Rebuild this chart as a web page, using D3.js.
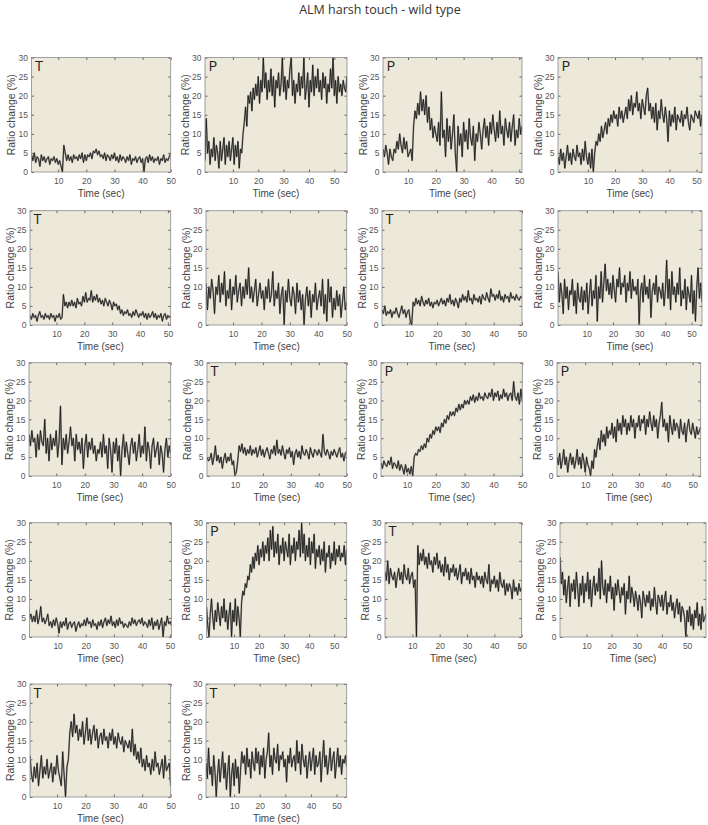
<!DOCTYPE html>
<html><head><meta charset="utf-8">
<script src="https://cdn.jsdelivr.net/npm/d3@7"></script>
<style>body{margin:0;background:#fff}</style>
</head><body><svg id="c" width="708" height="825"></svg>
<script>
const titleText = "ALM harsh touch - wild type";
const xLabel = "Time (sec)", yLabel = "Ratio change (%)";
const xTicks = [10,20,30,40,50];
const yTicks = [0,5,10,15,20,25,30];
const panelLetters = ["T","P","P","P","T","","T","","","T","P","P","","P","T","","T","T"];
const xMin = [0.5,-1,1,-1, 0.5,0.5,0.5,-1, 0.5,0,1,-0.5, 0,-1,0,-0.5, 0.5,-1];
const xMax = [50,55,51,52, 51,50,50,54, 50,50,50,53, 50.5,55,50,57.5, 50,54];
const tStart = [0.5,-1,1,-1, 0.5,0.5,0.5,-1, 0.5,0,1,-0.5, 0,-1,0,-0.5, 0.5,-1];
const tStep = 0.5;

const s1 = [4.5,3,5,2.5,4,3.5,1.5,4.5,3,4, 2.5,3.5,4,2,3.5,3,4,2.5,3.5,2, 3,1.5,0,7,5,3,4.5,3,4,2.5, 4.5,3.5,4,3,4.5,3.5,5,2.5,4.5,3, 4.5,4,5,3.5,5.5,5,6,4.5,5.5,4, 4.5,3.5,5,3,4.5,4,3,4.5,3.5,5, 3,4,2.5,4.5,3,4,3.5,2.5,4,3, 4.5,2,3.5,3,4,2.5,3.5,4,2.5,3.5, 0,3.5,4,2.5,4.5,3,4,2.5,3.5,3, 4,2,3.5,3,4.5,2.5,3.5,3,4,5];
const s2 = [3,14,5,8,2,6,4,9,3,7, 5,1,8,3,6,9,2,7,4,8, 3,6,9,2,7,4,8,1,6,5, 10,13,17,12,20,18,21,16,22,19, 23,20,25,18,24,21,30,22,26,19, 24,21,27,20,25,17,24,22,26,20, 23,30,21,25,19,24,22,27,30,20, 24,18,23,21,26,20,25,22,30,19, 22,26,17,24,21,28,20,25,22,27, 21,24,19,26,22,25,18,23,21,27, 22,30,20,24,18,25,21,23,20,24, 22,21,25];
const s3 = [6,4,7,5,2,6,4,3,6,5, 8,6,10,7,5,9,6,8,4,5, 6,3,12,16,14,18,15,21,16,19, 15,20,13,17,11,14,9,12,10,8, 13,7,21,9,11,4,14,8,12,6, 10,15,5,0,12,7,10,4,13,8, 11,6,14,9,7,12,3,10,8,13, 10,6,11,14,9,12,7,13,10,15, 11,8,13,9,16,10,12,7,14,11, 9,13,8,12,15,7,11,9,14,10, 12];
const s4 = [4,2,6,3,5,1,4,7,3,5, 2,6,4,3,7,4,5,2,6,3, 8,4,2,5,1,6,0,5,8,7, 10,8,12,9,11,13,10,14,12,15, 13,16,14,15,12,17,14,16,13,15, 17,14,19,16,20,15,18,17,21,16, 18,14,19,17,15,20,22,16,18,14, 17,13,18,11,16,14,19,15,13,17, 14,8,16,12,15,13,17,11,15,14, 13,16,12,15,14,17,13,11,15,14, 13,16,15,14,16,12,15];
const s5 = [2.5,1.5,3,2,2.5,1,2.5,3.5,2,2.5, 1.5,3,2,2.5,1.5,3,2,2.5,1,2.5, 2,3,1.5,2,8,5,6,4.5,6,5, 6.5,5,6,4.5,7,5.5,6,5,7.5,6, 8.5,6,7,6.5,9,6,7.5,6.5,8,6, 7,5.5,6.5,5,7,6,5,6.5,5.5,4, 6,5,5.5,4,5,3,4,2.5,3.5,3, 4,2.5,3,2,3.5,2.5,4,3,2,3, 2.5,3.5,2,3,1.5,3,2,2.5,3.5,2, 3,1.5,2.5,2,3,1,2.5,3,1.5,2.5,2,2.5];
const s6 = [11,4,10,7,12,9,3,10,8,13, 6,11,8,14,5,9,7,12,4,10, 8,13,6,9,11,5,10,7,12,8, 15,7,10,6,9,12,5,8,11,7, 9,4,10,7,12,6,8,14,5,9, 7,11,3,8,10,0,9,6,12,7, 5,10,8,3,11,6,9,4,8,0, 7,10,5,9,2,8,6,11,4,7, 9,5,12,3,8,1,12,6,10,2, 7,4,9,5,8,2,6,10,4,6];
const s7 = [4,3,5,2.5,3.5,3,4,2,3.5,3, 4.5,3,2,3.5,5,3,4,2,3.5,4, 1,0,6,5,7,5.5,6.5,5,7.5,6, 5,6.5,5.5,7,5,6,4.5,6,5.5,6.5, 5,6,7,5.5,6.5,5,7,6,8,5.5, 6.5,5,7,6,4.5,7,6,8,6.5,7.5, 6,9,6.5,7,5.5,8,6.5,7,6,7.5, 5.5,8,7,6.5,8.5,7,6,9.5,7.5,8, 6.5,8,7,9,6.5,7.5,6,8,7,7.5, 6,8.5,7,7.5,6.5,8,7,6.5,7.5,7];
const s8 = [14,6,11,8,3,12,7,10,4,9, 8,12,5,9,3,11,7,6,10,4, 9,6,11,3,8,12,5,9,7,13, 1,10,7,14,6,11,16,9,12,8, 11,7,13,9,6,12,10,15,8,11, 10,13,6,11,9,14,7,12,9,10, 8,12,0,9,11,6,13,8,10,7, 12,2,9,11,8,13,6,10,9,7, 11,5,9,17,7,12,4,14,8,10, 6,11,8,15,5,9,7,12,4,10, 8,6,13,3,9,1,10,15,7,11,6];
const s9 = [11,8,12,9,10,5,11,7,12,9, 8,15,6,10,4,11,7,10,8,12, 5,9,18.5,3,10,7,11,6,9,13, 8,10,4,11,7,9,6,10,2,8, 11,5,9,7,10,6,8,4,7,6, 9,5,11,6,8,2,10,7,1,9, 6,10,4,8,0,7,11,5,9,6, 3,8,10,6,9,4,7,11,5,8, 6,13,4,9,7,2,8,10,5,7, 9,3,8,6,1,7,10,5,8,6];
const s10 = [5,4,4.5,6,3,5,8,4,5.5,3.5, 5,2,4.5,6,3.5,5,4,6,3,4, 0,1,4,8,6.5,8.5,6,7.5,5.5,7, 6,8,5.5,7,6,7.5,5,6.5,8,5.5, 7,5,6.5,7.5,6,4.5,7,6,8,5.5, 9.5,6,7,5.5,8,6,4.5,7,6,7.5, 5,6.5,3,6,7,5,6.5,4.5,8,6, 5.5,7,6,4.5,7.5,6,5,7,6.5,5.5, 7,6,5,11,6.5,5.5,7,6,4.5,6.5, 5.5,7,6,5,6.5,7.5,5,6,4,6,6.5];
const s11 = [3.5,2,4,3,2.5,4,3,5,2,3.5, 3,2,4,1.5,3,2,0.5,3,1,2, 0.5,2.5,0,5,6,5.5,7,6.5,8,7, 8.5,7.5,10,9,11,10,12,11,13,12, 13,11.5,14,13,15,14,16,15,17,16, 17,16,18,17,19,17.5,19,18,20,19, 20,19,21,20,21.5,19.5,21,20,22,20.5, 21,20,22,21,20.5,22,21,23,20,22, 21,22.5,20,21.5,20.5,23,21,22,20,21.5, 22,20,25,21,20,22,19,23,20];
const s12 = [5,3,6,2,4,7,3,5,1,4, 6,3,5,2,4,7,3,5,2,6, 4,1,5,3,2,0,4,2,7,5, 8,10,7,12,9,11,8,13,10,12, 11,14,10,13,9,15,12,14,11,16, 13,15,11,14,12,16,13,15,10,14, 13,16,12,15,14,16,11,15,13,17, 14,12,16,13,15,10,14,16,19.5,13, 15,12,14,9,16,13,11,15,12,14, 13,10,15,12,11,14,9,13,15,12, 11,14,12,10,13,11,12,13];
const s13 = [5,6,4,5.5,4,7,3.5,5,8,4, 5,3.5,4.5,6,3,4,2.5,4.5,3,5, 3.5,1,4,2.5,4,3,5,2,3.5,4, 2.5,3.5,4,1.5,3,4,2.5,3.5,3,4.5, 3,5,3.5,4,2.5,4.5,3,3.5,2,4, 3,4.5,2.5,4,5,3,4.5,3.5,5.5,3, 4,2.5,4.5,3,5,3.5,4,2.5,3.5,3, 2.5,4,3,5,3.5,4.5,3,4,4.5,3.5, 5,3,4,3.5,2.5,4.5,3,5,2,4, 3,4.5,2,3.5,5,0,4,3,5.5,3.5, 4,3];
const s14 = [8,3,0,6,10,5,2,7,4,9, 6,3,8,5,10,4,7,2,6,9, 0,7,4,10,3,8,5,0,9,12, 11,14,13,16,15,19,17,21,18,22, 20,24,19,23,21,25,20,24,22,26, 20,28,23,29,21,25,22,27,19,24, 22,26,20,25,23,21,27,19,24,22, 26,20,25,23,28,21,30,22,27,20, 24,21,26,19,25,22,27,18,23,21, 24,19,23,20,25,17,22,21,24,18, 22,20,25,19,23,21,24,20,22,21,24,19,23];
const s15 = [17,15,20,14,18,16,15,17,13,16, 18,15,17,14,19,16,15,18,14,16, 17,13,15,0,24,19,22,20,23,19, 21,18,22,19,20,17,21,19,22,18, 20,17,19,16,21,17,19,15,18,17, 19,16,18,15,17,19,14,17,16,18, 15,17,14,18,15,16,13,17,15,16, 14,16,13,17,15,14,19,12,15,14, 16,13,15,12,17,14,13,15,11,14, 12,14,13,10,15,12,13,11,14,12, 13];
const s16 = [21,14,17,11,15,9,13,16,8,14, 12,15,10,17,13,8,14,11,16,9, 14,12,17,10,15,8,13,16,11,14, 12,18,10,20,13,11,15,9,14,12, 16,10,13,7,14,11,15,12,9,13, 11,14,6,12,10,16,9,13,11,8, 12,10,7,11,9,5,12,10,8,11, 9,12,7,10,8,13,9,6,11,10, 8,11,7,10,12,6,9,8,11,7, 9,5,8,10,6,9,4,8,7,5, 0,7,4,8,3,6,2,7,5,9, 3,6,2,8,4,5,6];
const s17 = [11,6,4,8,5,9,3,7,11,5, 8,6,10,5,7,9,4,8,6,11, 7,5,3,12,6,0,8,10,17,20, 16,22,17,19,15,18,16,20,14,17, 21,15,18,14,17,19,15,18,13,16, 17,14,18,15,16,13,17,15,18,14, 16,13,17,15,14,16,12,15,14,13, 15,12,18,11,14,10,12,9,13,8, 10,7,11,8,9,6,10,7,12,8, 9,6,8,10,5,11,7,8,9,3];
const s18 = [9,5,13,6,8,3,11,7,0,6, 10,4,8,12,5,9,2,7,11,0, 6,9,3,10,5,8,1,7,12,9, 11,6,13,8,10,5,12,9,7,13, 9,12,6,11,8,13,5,10,12,17, 8,11,6,13,10,9,14,7,11,10, 12,8,10,4,11,9,13,8,10,11, 7,15,9,12,6,14,10,8,11,5, 9,12,7,10,13,6,11,8,9,12, 4,10,15,8,11,6,9,13,7,10, 12,5,9,13,8,11,6,10,9,11,8];
const series = [s1,s2,s3,s4,s5,s6,s7,s8,s9,s10,s11,s12,s13,s14,s15,s16,s17,s18];

// layout (pixels)
const rowTop = [57.5,210.7,362.7,522.7,684];
const rowBottom = [172,325,476,637,797];
const boxLeft = [31.5,205,383,558, 30,206,382,558, 29,207,381,557, 29.5,206.5,385,560, 30,206];
const boxRight = [170.7,347,522,702, 170.7,346.7,522,702, 170.7,346.7,522.3,700.7, 171.5,346.7,521.7,706, 170.7,346.7];

const bg = "#ece8da";
const svg = d3.select("#c");

svg.append("text").attr("x",380).attr("y",14).attr("text-anchor","middle")
  .attr("font-family","'Open Sans', sans-serif").attr("font-size",12.5).attr("fill","#333")
  .text(titleText);

series.forEach((vals,i)=>{
  const r = Math.floor(i/4);
  const L = boxLeft[i], R = boxRight[i], T = rowTop[r], B = rowBottom[r];
  const x = d3.scaleLinear().domain([xMin[i], xMax[i]]).range([L, R]);
  const y = d3.scaleLinear().domain([0, 30]).range([B, T]);
  const g = svg.append("g");
  g.append("rect").attr("x",L).attr("y",T).attr("width",R-L).attr("height",B-T).attr("fill",bg);
  const cid = "clip"+i;
  g.append("clipPath").attr("id",cid).append("rect").attr("x",L).attr("y",T-0.5).attr("width",R-L).attr("height",B-T+1);
  const pts = vals.map((v,k)=>[tStart[i]+k*tStep, v]);
  const lineD = d3.line().x(d=>x(d[0])).y(d=>y(d[1]))(pts);
  g.append("path").attr("clip-path",`url(#${cid})`).attr("d", lineD)
    .attr("fill","none").attr("stroke","#555").attr("stroke-opacity",0.55).attr("stroke-width",1.7).attr("stroke-linejoin","round");
  g.append("path").attr("clip-path",`url(#${cid})`).attr("d", lineD)
    .attr("fill","none").attr("stroke","#111").attr("stroke-width",0.8).attr("stroke-linejoin","round");

  const axStyle = sel => { sel.attr("font-family","'Liberation Sans', Arial, sans-serif").attr("font-size",8.5).attr("color","#555");
    sel.select(".domain").remove(); sel.selectAll("line").attr("stroke","#666"); };
  g.append("g").attr("transform",`translate(0,${B})`)
    .call(d3.axisBottom(x).tickValues(xTicks).tickSize(-2.5).tickSizeOuter(0).tickPadding(5.5).tickFormat(d3.format("d"))).call(axStyle);
  g.append("g").attr("transform",`translate(0,${T})`)
    .call(d3.axisTop(x).tickValues(xTicks).tickSize(-2.5).tickSizeOuter(0).tickFormat("")).call(axStyle);
  g.append("g").attr("transform",`translate(${L},0)`)
    .call(d3.axisLeft(y).tickValues(yTicks).tickSize(-2.5).tickSizeOuter(0).tickPadding(3.5).tickFormat(d3.format("d"))).call(axStyle);
  g.append("g").attr("transform",`translate(${R},0)`)
    .call(d3.axisRight(y).tickValues(yTicks).tickSize(-2.5).tickSizeOuter(0).tickFormat("")).call(axStyle);

  g.append("rect").attr("x",L).attr("y",T).attr("width",R-L).attr("height",B-T)
    .attr("fill","none").attr("stroke","#8a8a8a").attr("stroke-width",0.8);

  if (panelLetters[i]) {
    g.append("text").attr("x",L+3.5).attr("y",T+13.5).attr("font-family","'Open Sans', sans-serif")
      .attr("font-size",14.5).attr("fill","#222").text(panelLetters[i]);
  }
  g.append("text").attr("transform",`translate(${L-20},${(T+B)/2}) rotate(-90)`).attr("text-anchor","middle")
    .attr("dy","0.35em").attr("font-family","'Liberation Sans', Arial, sans-serif").attr("font-size",10.5).attr("fill","#444").text(yLabel);
  g.append("text").attr("x",(L+R)/2).attr("y",B+24.5).attr("text-anchor","middle")
    .attr("font-family","'Liberation Sans', Arial, sans-serif").attr("font-size",10).attr("fill","#444").text(xLabel);
});
</script></body></html>
